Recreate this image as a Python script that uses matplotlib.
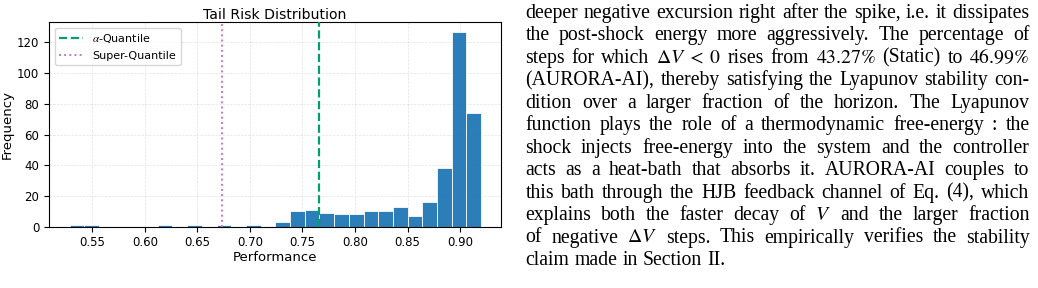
import re
import numpy as np
import matplotlib
matplotlib.use("Agg")
import matplotlib.pyplot as plt
from matplotlib.font_manager import FontProperties

# ---------------- data ----------------
perf_min = 0.5284
perf_max = 0.9201
n_bins = 28
bin_counts = [1, 1, 0, 0, 0, 0, 1, 0, 1, 0, 1, 0, 1, 0,
              3, 10, 11, 9, 8, 8, 10, 10, 13, 7, 16, 38, 127, 74]
alpha_quantile = 0.766
super_quantile = 0.673
xticks = [0.55, 0.60, 0.65, 0.70, 0.75, 0.80, 0.85, 0.90]

text_lines = [
    "deeper negative excursion right after the spike, i.e. it dissipates",
    "the post-shock energy more aggressively. The percentage of",
    r"steps for which $\Delta V\;<\;0$ rises from $43.27\%$ (Static) to $46.99\%$",
    "(AURORA-AI), thereby satisfying the Lyapunov stability con-",
    "dition over a larger fraction of the horizon. The Lyapunov",
    "function plays the role of a thermodynamic free-energy : the",
    "shock injects free-energy into the system and the controller",
    "acts as a heat-bath that absorbs it. AURORA-AI couples to",
    "this bath through the HJB feedback channel of Eq. (4), which",
    r"explains both the faster decay of $V$ and the larger fraction",
    r"of negative $\Delta V$ steps. This empirically verifies the stability",
    "claim made in Section II.",
]

# ---------------- figure ----------------
plt.rcParams['mathtext.fontset'] = 'stix'
W, H = 1038, 288
fig = plt.figure(figsize=(W / 100, H / 100), dpi=100)

ax = fig.add_axes([49 / W, 1 - 226.7 / H, (500.7 - 49) / W, (226.7 - 22) / H])
edges = np.linspace(perf_min, perf_max, n_bins + 1)
centers = 0.5 * (edges[:-1] + edges[1:])
ax.hist(centers, bins=edges, weights=bin_counts, color='#1f77b4', alpha=0.95,
        edgecolor='white', linewidth=0.6, zorder=2)
ax.axvline(alpha_quantile, color='#029e73', linestyle='--', linewidth=1.6,
           label=r'$\alpha$-Quantile', zorder=3)
ax.axvline(super_quantile, color='#cc78bc', linestyle=':', linewidth=1.4,
           label='Super-Quantile', zorder=3)
ax.set_xlim(0.5088, 0.9387)
ax.set_xticks(xticks)
ax.set_xticklabels([f"{v:.2f}" for v in xticks])
ax.grid(True, linestyle='--', linewidth=0.5, alpha=0.35, zorder=0)
ax.tick_params(labelsize=8.5, length=3.5, width=0.8)
ax.set_xlabel('Performance', fontsize=9.5, labelpad=1)
ax.set_ylabel('Frequency', fontsize=9.5, labelpad=2)
ax.set_title('Tail Risk Distribution', fontsize=10.1, pad=2)
leg = ax.legend(loc='upper left', fontsize=8, frameon=True, handlelength=2.2,
                borderaxespad=0.5)

# ---------------- justified text block ----------------
fp = FontProperties(family='Liberation Serif', size=14.2)
renderer = fig.canvas.get_renderer()
x_left, x_right = 525.5, 1029.5
base0, step = 18.0, 22.45


def word_width(w):
    t = fig.text(0, 0, w, fontproperties=fp)
    bb = t.get_window_extent(renderer)
    t.remove()
    return bb.width


space_w = word_width('a a') - word_width('aa')
for i, line in enumerate(text_lines):
    y = 1 - (base0 + i * step) / H
    words = re.findall(r'\$[^$]*\$|[^\s$]+', line)
    widths = [word_width(w) for w in words]
    last = (i == len(text_lines) - 1)
    if last or len(words) == 1:
        gap = space_w
    else:
        gap = (x_right - x_left - sum(widths)) / (len(words) - 1)
    x = x_left
    for w, wd in zip(words, widths):
        fig.text(x / W, y, w, fontproperties=fp, va='baseline', ha='left')
        x += wd + gap

fig.savefig('out.png', dpi=100)
